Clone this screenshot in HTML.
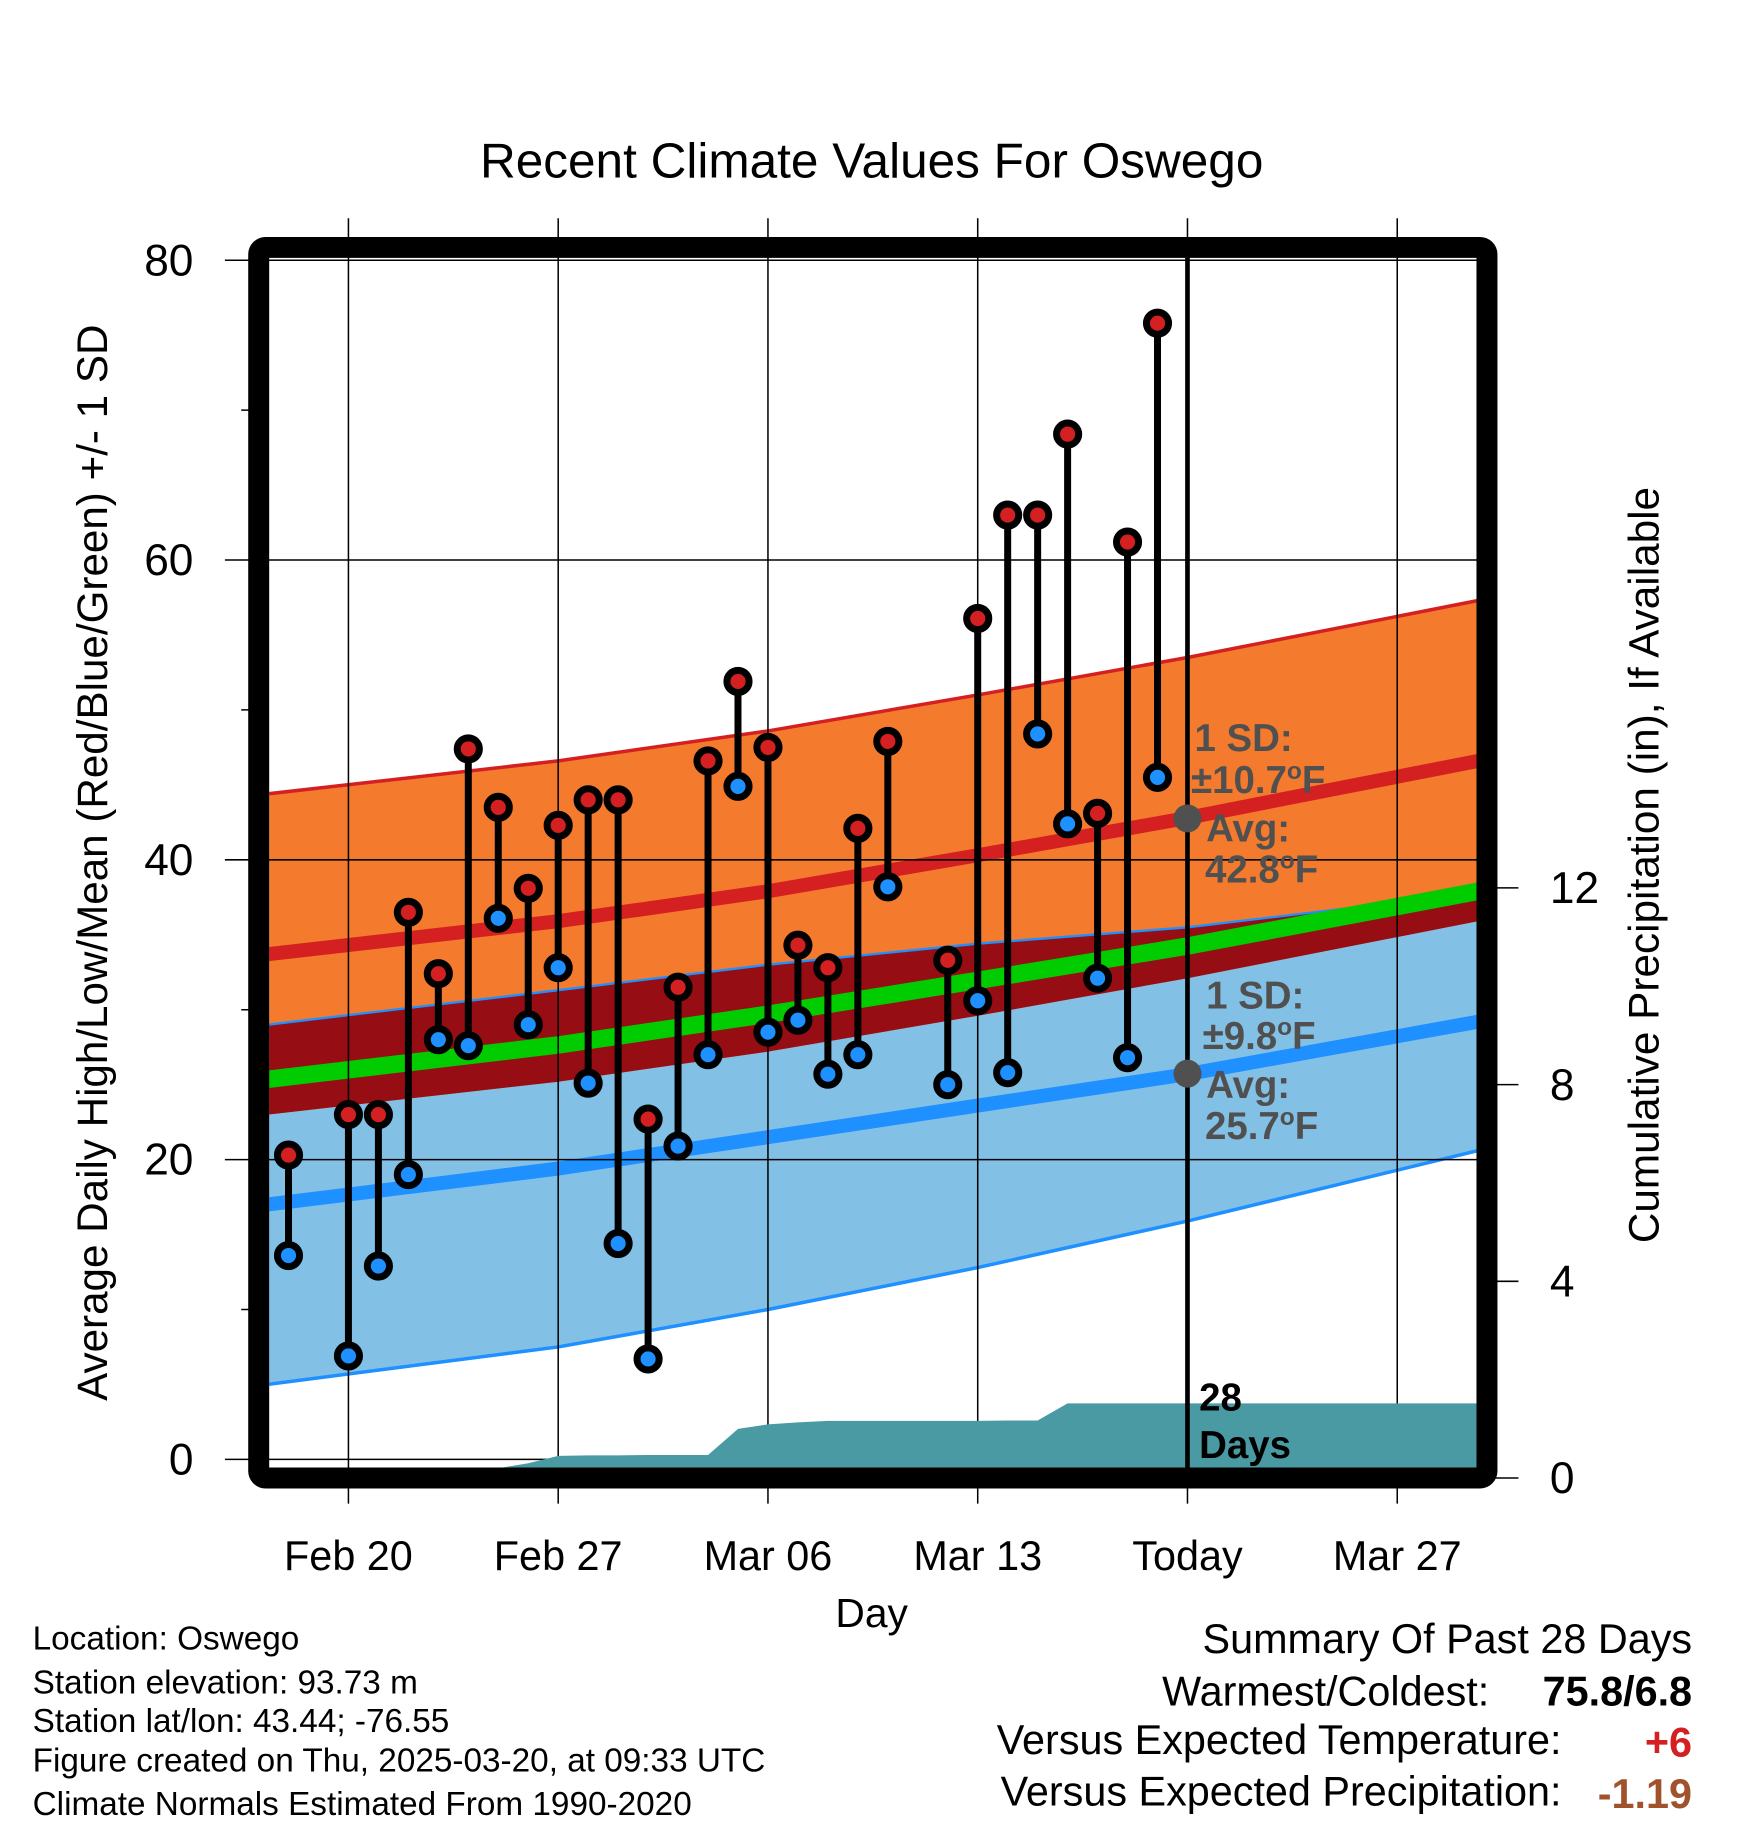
<!DOCTYPE html>
<html><head><meta charset="utf-8"><style>
html,body{margin:0;padding:0;background:#fff}
svg{display:block}
text{font-family:"Liberation Sans",Arial,sans-serif}
</style></head><body>
<svg id="chart" width="1748" height="1828" viewBox="0 0 1500 1568" xmlns="http://www.w3.org/2000/svg">
<rect width="1500" height="1568" fill="#fff"/>
<text x="748" y="152" font-size="42.5" text-anchor="middle">Recent Climate Values For Oswego</text>
<defs><clipPath id="pc"><rect x="231" y="221" width="1036" height="1039"/></clipPath></defs>
<g id="bands" clip-path="url(#pc)"></g>
<g id="grid"></g>
<g id="precip" clip-path="url(#pc)"></g>
<g id="marks"></g>
<g id="ann">
<line x1="1019" y1="212" x2="1019" y2="1268" stroke="#000" stroke-width="4"/>
<circle cx="1019" cy="702" r="12" fill="#505050"/>
<circle cx="1019" cy="921" r="12" fill="#505050"/>
<g font-size="33" font-weight="bold" fill="#505050">
<text x="1025" y="644">1 SD:</text>
<text x="1022" y="680">±10.7<tspan font-size="21" dy="-12">o</tspan><tspan dy="12">F</tspan></text>
<text x="1035" y="722">Avg:</text>
<text x="1034" y="757">42.8<tspan font-size="21" dy="-12">o</tspan><tspan dy="12">F</tspan></text>
<text x="1035" y="865">1 SD:</text>
<text x="1032" y="900">±9.8<tspan font-size="21" dy="-12">o</tspan><tspan dy="12">F</tspan></text>
<text x="1035" y="942">Avg:</text>
<text x="1034" y="977">25.7<tspan font-size="21" dy="-12">o</tspan><tspan dy="12">F</tspan></text>
</g>
<text x="1029" y="1210" font-size="33" font-weight="bold">28</text>
<text x="1029" y="1251" font-size="33" font-weight="bold">Days</text>
</g>
<rect x="222" y="212" width="1054" height="1056" rx="6" fill="none" stroke="#000" stroke-width="18"/>
<g id="axes"></g>
<text transform="translate(92,740) rotate(-90)" font-size="36.2" text-anchor="middle">Average Daily High/Low/Mean (Red/Blue/Green) +/- 1 SD</text>
<text transform="translate(1423,742) rotate(-90)" font-size="36.3" text-anchor="middle">Cumulative Precipitation (in), If Available</text>
<text x="748" y="1396" font-size="35" text-anchor="middle">Day</text>
<g font-size="28.6">
<text x="28" y="1415">Location: Oswego</text>
<text x="28" y="1453">Station elevation: 93.73 m</text>
<text x="28" y="1486">Station lat/lon: 43.44; -76.55</text>
<text x="28" y="1520">Figure created on Thu, 2025-03-20, at 09:33 UTC</text>
<text x="28" y="1557">Climate Normals Estimated From 1990-2020</text>
</g>
<g font-size="35.5">
<text x="1452" y="1418" text-anchor="end">Summary Of Past 28 Days</text>
<text x="1278" y="1463" text-anchor="end">Warmest/Coldest:</text>
<text x="1452" y="1463" text-anchor="end" font-weight="bold">75.8/6.8</text>
<text x="1340" y="1505" text-anchor="end">Versus Expected Temperature:</text>
<text x="1452" y="1507" text-anchor="end" font-weight="bold" fill="#d42020">+6</text>
<text x="1340" y="1549" text-anchor="end">Versus Expected Precipitation:</text>
<text x="1452" y="1551" text-anchor="end" font-weight="bold" fill="#a0522d">-1.19</text>
</g>
</svg>
<script>
// observed data (day offset from Feb 20)
const obsDays = [-2,0,1,2,3,4,5,6,7,8,9,10,11,12,13,14,15,16,17,18,20,21,22,23,24,25,26,27];
const obsHigh = [20.3,23,23,36.5,32.4,47.4,43.5,38.1,42.3,44,44,22.7,31.5,46.6,51.9,47.5,34.3,32.8,42.1,47.9,33.3,56.1,63,63,68.4,43.1,61.2,75.8];
const obsLow  = [13.6,6.9,12.9,19,28,27.6,36.1,29,32.8,25.1,14.4,6.7,20.9,27,44.9,28.5,29.3,25.7,27,38.2,25,30.6,25.8,48.4,42.4,32.1,26.8,45.5];
// climate normals
const normDays = [-2.7,7,14,21,28,37.7];
const normHigh = [33.7,35.9,37.9,40.3,42.8,46.6];
const highSD   = [10.7,10.7,10.7,10.7,10.7,10.7];
const normLow  = [17.0,19.4,21.5,23.6,25.7,29.2];
const lowSD    = [12.0,11.9,11.5,10.8,9.8,8.6];
// cumulative precipitation (in)
const precipDays = [-2,0,1,2,3,4,5,6,7,8,9,10,11,12,13,14,15,16,17,18,20,21,22,23,24,25,26,27,37.7];
const precipVals = [0,0,0,0,0,0,0.2,0.3,0.45,0.46,0.46,0.47,0.47,0.47,1.0,1.09,1.13,1.16,1.16,1.16,1.16,1.16,1.17,1.17,1.52,1.52,1.52,1.52,1.52];
const xTickDays = [0,7,14,21,28,35];
const xTickLabels = ["Feb 20","Feb 27","Mar 06","Mar 13","Today","Mar 27"];
const yTicks = [0,20,40,60,80];
const yMinor = [10,30,50,70];
const y2Ticks = [0,4,8,12];

const NS="http://www.w3.org/2000/svg";
const X = d => 299 + d*180/7;
const Y = v => 1252 - v*(1029/80);
const Y2 = v => 1268 - v*42.2;
function mk(parent, tag, attrs){const e=document.createElementNS(NS,tag);for(const k in attrs)e.setAttribute(k,attrs[k]);parent.appendChild(e);return e;}
const pts = (ds, vs, fy) => ds.map((d,i)=>X(d).toFixed(1)+","+fy(vs[i]).toFixed(1));
const add=(a,b,s)=>a.map((v,i)=>v+s*b[i]);

const bands=document.getElementById('bands');
const hiU=add(normHigh,highSD,1), hiL=add(normHigh,highSD,-1), loU=add(normLow,lowSD,1), loL=add(normLow,lowSD,-1);
const rev=a=>a.slice().reverse();
let e;
e=mk(bands,'polygon',{points:pts(normDays,loU,Y).concat(rev(pts(normDays,loL,Y))).join(' '),fill:'#82c0e6'});


e=mk(bands,'polygon',{points:pts(normDays,hiU,Y).concat(rev(pts(normDays,hiL,Y))).join(' '),fill:'#f47a2e'});


const ovTop=loU.map((v,i)=>Math.min(v,hiU[i]));
e=mk(bands,'polygon',{points:pts(normDays,ovTop,Y).concat(rev(pts(normDays,hiL,Y))).join(' '),fill:'#960e14'});


e=mk(bands,'polyline',{points:pts(normDays,loU,Y).join(' '),fill:'none',stroke:'#1e90ff','stroke-width':2});


e=mk(bands,'polyline',{points:pts(normDays,loL,Y).join(' '),fill:'none',stroke:'#1e90ff','stroke-width':3});


e=mk(bands,'polyline',{points:pts(normDays,hiU,Y).join(' '),fill:'none',stroke:'#d42020','stroke-width':3});


const mean=normHigh.map((v,i)=>(v+normLow[i])/2);
e=mk(bands,'polyline',{points:pts(normDays,mean,Y).join(' '),fill:'none',stroke:'#00cc00','stroke-width':15});


e=mk(bands,'polyline',{points:pts(normDays,normHigh,Y).join(' '),fill:'none',stroke:'#d42020','stroke-width':12});


e=mk(bands,'polyline',{points:pts(normDays,normLow,Y).join(' '),fill:'none',stroke:'#1e90ff','stroke-width':12});



const grid=document.getElementById('grid');
yTicks.forEach(v=>{e=mk(grid,'line',{x1:193,x2:1268,y1:Y(v),y2:Y(v),stroke:'#000','stroke-width':1.3});

});
yMinor.forEach(v=>{e=mk(grid,'line',{x1:207,x2:222,y1:Y(v),y2:Y(v),stroke:'#000','stroke-width':1.3});

});
xTickDays.forEach(d=>{e=mk(grid,'line',{x1:X(d),x2:X(d),y1:187,y2:1290,stroke:'#000','stroke-width':1.3});

});

const pr=document.getElementById('precip');
let pp=pts(precipDays,precipVals,Y2);
pp.push(X(precipDays[precipDays.length-1]).toFixed(1)+",1270");
pp.push(X(precipDays[0]).toFixed(1)+",1270");
e=mk(pr,'polygon',{points:pp.join(' '),fill:'#4a9aa3'});



const marks=document.getElementById('marks');
obsDays.forEach((d,i)=>{
  const x=X(d);
  e=mk(marks,'line',{x1:x,x2:x,y1:Y(obsHigh[i]),y2:Y(obsLow[i]),stroke:'#000','stroke-width':6});
  
  
  e=mk(marks,'circle',{cx:x,cy:Y(obsHigh[i]),r:9.5,fill:'#d42020',stroke:'#000','stroke-width':6});
  
  
  e=mk(marks,'circle',{cx:x,cy:Y(obsLow[i]),r:9.5,fill:'#1e90ff',stroke:'#000','stroke-width':6});
  
  
});

const axes=document.getElementById('axes');
yTicks.forEach(v=>{e=mk(axes,'text',{x:166,y:Y(v)+13,'font-size':38,'text-anchor':'end'});e.textContent=v;

});
y2Ticks.forEach(v=>{e=mk(axes,'line',{x1:1276,x2:1303,y1:Y2(v),y2:Y2(v),stroke:'#000','stroke-width':1.3});


e=mk(axes,'text',{x:1330,y:Y2(v)+13,'font-size':38});e.textContent=v;

});
xTickDays.forEach((d,i)=>{e=mk(axes,'text',{x:X(d),y:1347,'font-size':35.5,'text-anchor':'middle'});e.textContent=xTickLabels[i];

});
</script>
</body></html>
